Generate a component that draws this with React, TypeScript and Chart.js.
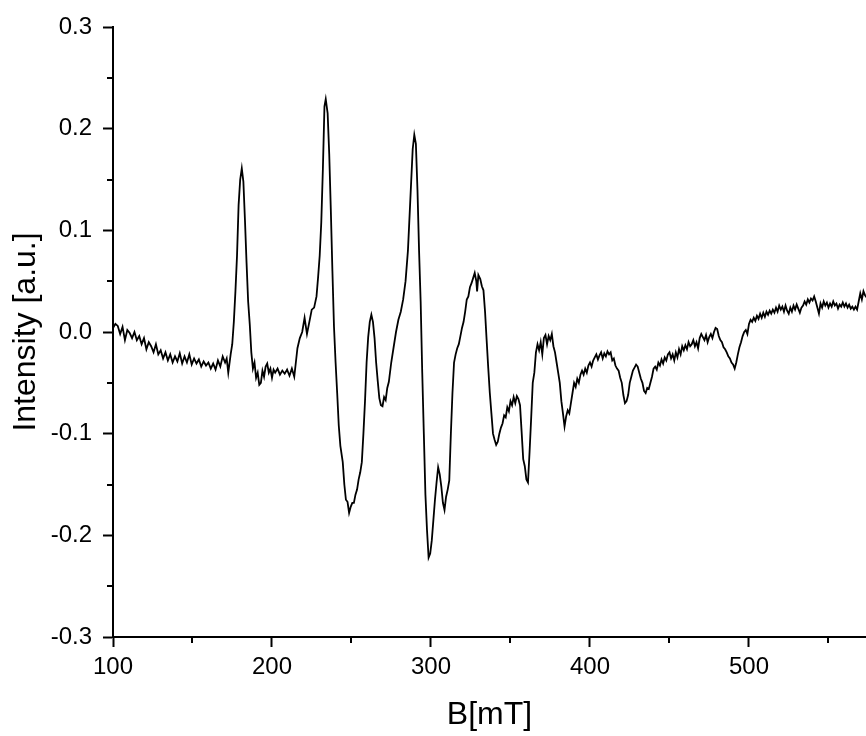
import React, { useEffect, useRef } from "react";
import { Chart, registerables } from "chart.js";

Chart.register(...registerables);

// Magnetic field B [mT]
const fieldB: number[] = [
  100, 101.5, 103, 104.5, 106, 107.5, 109, 110.5, 112, 113.5, 115, 116.5, 118, 119.5, 121, 122.5, 124, 125.5, 127, 128.5,
  130, 131.5, 133, 134.5, 136, 137.5, 139, 140.5, 142, 143.5, 145, 146.5, 148, 149.5, 151, 152.5, 154, 155.5, 157, 158.5,
  160, 161.5, 163, 164.5, 166, 167.5, 169, 170.5, 171.5, 172.5, 174, 175, 176, 177, 178, 179, 180, 181, 182, 183,
  184, 185, 186, 187, 188, 189, 190, 191, 192, 193, 194, 195, 196, 197, 198, 199, 200, 201, 202, 203.5,
  205, 206.5, 208, 209.5, 211, 212.5, 214, 215, 216, 217.5, 219, 220.5, 222, 223.5, 225, 226.5, 228, 229, 230, 231,
  232, 233, 233.8, 235, 236, 237, 238, 239, 240, 241, 242, 243, 244.5, 245.5, 246.5, 247.5, 248.5, 249.5, 250.5, 251.5,
  252.5, 253.5, 254.5, 255.5, 256.5, 257.5, 258.5, 259.5, 260.5, 261.5, 262.5, 263.5, 264.5, 265.5, 266.5, 267.5, 268.5, 269.5, 270.5, 271.5,
  272.5, 273.5, 275, 276.5, 278, 279.5, 281, 282.5, 284, 285.5, 287, 288.5, 289.5, 290.5, 291.5, 292.5, 293.5, 294.5, 295.5, 296.5,
  297.5, 298.5, 299.5, 300.5, 301.5, 302.5, 303.5, 304.5, 305.5, 306.5, 307.5, 308.5, 309.5, 310.5, 311.5, 312.5, 313.5, 314.5, 315.5, 316.5,
  317.5, 318.5, 319.5, 320.5, 321.5, 322.5, 323.5, 324.5, 325.5, 326.5, 327.5, 328.5, 329, 329.8, 331, 332, 333, 334, 335, 336,
  337, 338, 339, 340, 341, 342, 343, 344, 345, 346, 347, 348, 349, 350, 351, 352, 353, 354, 355, 356,
  357, 358, 359, 360, 361, 362, 363, 364, 365, 366, 367, 368, 369, 370, 371, 372, 373, 374, 375, 376,
  377, 378, 379, 380, 381, 382, 383, 384, 385, 386, 387, 388, 389, 390, 391, 392, 393, 394, 395, 396,
  397, 398, 399, 400, 401, 402, 403, 404, 405, 406, 407, 408, 409, 410, 411, 412, 413, 414, 415, 416,
  417, 418, 419, 420, 421, 422, 423, 424, 425, 426, 427, 428, 429, 430, 431, 432, 433, 434, 435, 436,
  437, 438, 439, 440, 441, 442, 443, 444, 445, 446, 447, 448, 449, 450, 451, 452, 453, 454, 455, 456,
  457, 458, 459, 460, 461, 462, 463, 464, 465, 466, 467, 468, 469, 470, 471, 472, 473, 474, 475, 476,
  477, 478, 479, 480, 481, 482, 483, 484, 485, 486, 487, 488, 489, 490, 491, 492, 493, 494, 495, 496,
  497, 498, 499, 500, 501, 502, 503, 504, 505, 506, 507, 508, 509, 510, 511, 512, 513, 514, 515, 516,
  517, 518, 519, 520, 521, 522, 523, 524, 525, 526, 527, 528, 529, 530, 531, 532, 533, 534, 535, 536,
  537, 538, 539, 540, 541, 542, 543, 544, 545, 546, 547, 548, 549, 550, 551, 552, 553, 554, 555, 556,
  557, 558, 559, 560, 561, 562, 563, 564, 565, 566, 567, 568, 569, 570, 571, 572, 573, 574,
];

// Intensity [a.u.]
const intensity: number[] = [
  0.004, 0.008, 0.006, -0.002, 0.005, -0.008, 0.002, -0.001, -0.006, 0.0, -0.008, -0.004, -0.012, -0.006, -0.017, -0.010, -0.014, -0.020, -0.012, -0.022,
  -0.018, -0.026, -0.020, -0.028, -0.022, -0.030, -0.024, -0.029, -0.021, -0.031, -0.024, -0.030, -0.022, -0.032, -0.026, -0.031, -0.027, -0.034, -0.029, -0.033,
  -0.030, -0.036, -0.031, -0.037, -0.028, -0.034, -0.024, -0.030, -0.026, -0.040, -0.022, -0.012, 0.010, 0.040, 0.075, 0.125, 0.150, 0.161, 0.148, 0.110,
  0.068, 0.030, 0.008, -0.020, -0.036, -0.030, -0.045, -0.040, -0.052, -0.050, -0.038, -0.044, -0.034, -0.031, -0.040, -0.036, -0.045, -0.037, -0.040, -0.036,
  -0.042, -0.038, -0.041, -0.037, -0.043, -0.036, -0.044, -0.030, -0.016, -0.006, 0.000, 0.014, -0.002, 0.010, 0.022, 0.024, 0.035, 0.054, 0.075, 0.108,
  0.160, 0.222, 0.229, 0.215, 0.175, 0.120, 0.060, 0.005, -0.030, -0.060, -0.092, -0.112, -0.128, -0.150, -0.165, -0.167, -0.178, -0.172, -0.168, -0.168,
  -0.160, -0.155, -0.145, -0.138, -0.128, -0.100, -0.068, -0.030, -0.005, 0.010, 0.017, 0.010, -0.006, -0.030, -0.048, -0.065, -0.072, -0.073, -0.064, -0.067,
  -0.055, -0.049, -0.030, -0.015, 0.000, 0.012, 0.020, 0.032, 0.050, 0.080, 0.130, 0.180, 0.194, 0.185, 0.140, 0.080, 0.030, -0.040, -0.100, -0.160,
  -0.195, -0.222, -0.218, -0.205, -0.185, -0.165, -0.148, -0.133, -0.140, -0.152, -0.168, -0.175, -0.162, -0.155, -0.146, -0.100, -0.060, -0.030, -0.022, -0.016,
  -0.012, -0.004, 0.004, 0.010, 0.020, 0.032, 0.035, 0.044, 0.048, 0.053, 0.058, 0.050, 0.040, 0.056, 0.052, 0.045, 0.041, 0.020, -0.008, -0.035,
  -0.060, -0.080, -0.100, -0.106, -0.111, -0.108, -0.100, -0.094, -0.090, -0.082, -0.084, -0.074, -0.078, -0.068, -0.072, -0.064, -0.070, -0.063, -0.066, -0.072,
  -0.098, -0.125, -0.132, -0.145, -0.148, -0.118, -0.085, -0.050, -0.040, -0.020, -0.012, -0.018, -0.010, -0.022, -0.006, -0.003, -0.012, -0.004, -0.008, -0.002,
  -0.014, -0.020, -0.030, -0.040, -0.050, -0.068, -0.080, -0.093, -0.083, -0.077, -0.080, -0.070, -0.060, -0.050, -0.054, -0.046, -0.050, -0.042, -0.038, -0.042,
  -0.036, -0.040, -0.033, -0.030, -0.034, -0.028, -0.025, -0.022, -0.027, -0.023, -0.020, -0.026, -0.021, -0.024, -0.019, -0.022, -0.020, -0.028, -0.026, -0.033,
  -0.036, -0.038, -0.045, -0.050, -0.062, -0.070, -0.068, -0.062, -0.050, -0.044, -0.038, -0.035, -0.032, -0.034, -0.040, -0.046, -0.050, -0.058, -0.060, -0.055,
  -0.056, -0.050, -0.044, -0.036, -0.034, -0.037, -0.030, -0.033, -0.027, -0.031, -0.025, -0.028, -0.022, -0.020, -0.026, -0.022, -0.028, -0.020, -0.025, -0.017,
  -0.022, -0.014, -0.018, -0.013, -0.017, -0.010, -0.014, -0.012, -0.008, -0.014, -0.010, -0.016, -0.006, -0.002, -0.005, -0.008, -0.003, -0.010, -0.005, -0.002,
  -0.006, 0.000, 0.004, 0.003, -0.004, -0.008, -0.010, -0.015, -0.017, -0.020, -0.024, -0.026, -0.030, -0.032, -0.036, -0.030, -0.022, -0.015, -0.010, -0.004,
  0.000, 0.002, -0.002, 0.008, 0.012, 0.010, 0.014, 0.011, 0.016, 0.013, 0.018, 0.014, 0.019, 0.015, 0.020, 0.017, 0.021, 0.018, 0.022, 0.019,
  0.024, 0.020, 0.026, 0.022, 0.025, 0.020, 0.026, 0.021, 0.018, 0.024, 0.020, 0.026, 0.022, 0.027, 0.023, 0.019, 0.024, 0.026, 0.030, 0.027,
  0.032, 0.029, 0.033, 0.031, 0.035, 0.030, 0.024, 0.018, 0.028, 0.024, 0.030, 0.026, 0.029, 0.024, 0.028, 0.025, 0.030, 0.026, 0.028, 0.023,
  0.027, 0.025, 0.029, 0.025, 0.028, 0.024, 0.027, 0.023, 0.025, 0.022, 0.025, 0.022, 0.030, 0.038, 0.032, 0.040, 0.036, 0.034,
];

// Axis ranges and ticks
const xRange: number[] = [100, 573.6];
const yRange: number[] = [-0.3, 0.3];
const xMajorTicks: number[] = [100, 200, 300, 400, 500];
const xMinorTicks: number[] = [150, 250, 350, 450, 550];
const yMajorTicks: number[] = [-0.3, -0.2, -0.1, 0.0, 0.1, 0.2, 0.3];
const yMinorTicks: number[] = [-0.25, -0.15, -0.05, 0.05, 0.15, 0.25];

const FONT = "'Liberation Sans', Arial, Helvetica, sans-serif";

const minorTickPlugin = {
  id: "minorTicks",
  afterDraw(chart: any) {
    const ctx = chart.ctx;
    const xs = chart.scales.x;
    const ys = chart.scales.y;
    const area = chart.chartArea;
    ctx.save();
    ctx.strokeStyle = "#000";
    ctx.lineWidth = 2;
    ctx.beginPath();
    for (const v of xMinorTicks) {
      const px = Math.round(xs.getPixelForValue(v));
      if (px > area.right) continue;
      ctx.moveTo(px, area.bottom);
      ctx.lineTo(px, area.bottom + 6);
    }
    for (const v of yMinorTicks) {
      const py = Math.round(ys.getPixelForValue(v));
      ctx.moveTo(area.left, py);
      ctx.lineTo(area.left - 6, py);
    }
    ctx.stroke();
    ctx.restore();
  },
};

export default function App() {
  const canvasRef = useRef<HTMLCanvasElement | null>(null);

  useEffect(() => {
    if (!canvasRef.current) return;
    const points = fieldB.map((b, i) => ({ x: b, y: intensity[i] }));
    const chart = new Chart(canvasRef.current, {
      type: "line",
      data: {
        datasets: [
          {
            data: points,
            borderColor: "#000",
            borderWidth: 1.8,
            pointRadius: 0,
            tension: 0,
            fill: false,
          },
        ],
      },
      options: {
        animation: false,
        responsive: true,
        maintainAspectRatio: false,
        layout: { padding: { top: 27, left: 0, right: 0, bottom: 0 } },
        plugins: {
          legend: { display: false },
          tooltip: { enabled: false },
        },
        scales: {
          x: {
            type: "linear",
            min: xRange[0],
            max: xRange[1],
            afterBuildTicks: (scale: any) => {
              scale.ticks = xMajorTicks.map((v) => ({ value: v }));
            },
            afterFit: (scale: any) => {
              scale.height = 99;
            },
            ticks: {
              autoSkip: false,
              maxRotation: 0,
              includeBounds: false,
              padding: 6,
              color: "#000",
              font: { family: FONT, size: 24 },
              callback: (v: any) => String(v),
            },
            grid: {
              drawOnChartArea: false,
              drawTicks: true,
              tickLength: 10,
              tickWidth: 2,
              tickColor: "#000",
            },
            border: { display: true, color: "#000", width: 2 },
            title: {
              display: true,
              text: "B[mT]",
              color: "#000",
              font: { family: FONT, size: 32 },
              padding: { top: 0, bottom: 2 },
            },
          },
          y: {
            type: "linear",
            min: yRange[0],
            max: yRange[1],
            afterBuildTicks: (scale: any) => {
              scale.ticks = yMajorTicks.map((v) => ({ value: v }));
            },
            afterFit: (scale: any) => {
              scale.width = 113;
            },
            ticks: {
              autoSkip: false,
              includeBounds: false,
              padding: 11,
              color: "#000",
              font: { family: FONT, size: 24 },
              callback: (v: any) => {
                const n = Math.round(Number(v) * 10) / 10;
                return (n === 0 ? 0 : n).toFixed(1);
              },
            },
            grid: {
              drawOnChartArea: false,
              drawTicks: true,
              tickLength: 10,
              tickWidth: 2,
              tickColor: "#000",
            },
            border: { display: true, color: "#000", width: 2 },
            title: {
              display: true,
              text: "Intensity [a.u.]",
              color: "#000",
              font: { family: FONT, size: 32 },
              padding: { top: 7, bottom: 0 },
            },
          },
        },
      },
      plugins: [minorTickPlugin],
    });
    return () => chart.destroy();
  }, []);

  return (
    <div style={{ position: "absolute", left: 0, top: 0, width: 866, height: 736, background: "#fff" }}>
      <canvas ref={canvasRef} />
    </div>
  );
}
